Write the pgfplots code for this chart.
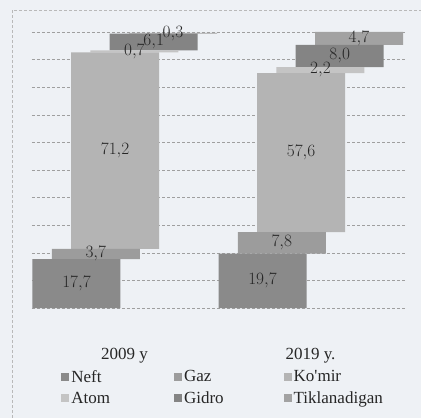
\documentclass[border=0pt]{standalone}
\usepackage{pgfplots}
\pgfplotsset{compat=1.18}
\usepackage{fontspec}
\setmainfont{Liberation Serif}
\definecolor{bg}{HTML}{EEF1F5}
\definecolor{cNeft}{HTML}{8A8A8A}
\definecolor{cGaz}{HTML}{9C9C9C}
\definecolor{cKomir}{HTML}{B4B4B4}
\definecolor{cAtom}{HTML}{C4C4C4}
\definecolor{cGidro}{HTML}{848484}
\definecolor{cTik}{HTML}{A2A2A2}
\definecolor{lab}{HTML}{262626}
\begin{document}
\begin{tikzpicture}
\fill[bg] (0pt,0pt) rectangle (421pt,418pt);
\draw[gray!55, densely dashed, line width=0.6pt] (12pt,0pt) -- (12pt,408pt) -- (421pt,408pt);
\begin{axis}[
  at={(32pt,110pt)}, anchor=south west,
  width=373pt, height=276pt, scale only axis,
  xmin=32, xmax=405, ymin=0, ymax=100,
  axis line style={draw=none}, major tick style={draw=none},
  ytick={0,10,...,100}, yticklabels={},
  ymajorgrids, grid style={densely dashed, gray!75, line width=0.5pt},
  xtick={124.5,310.5}, xticklabels={2009 y, 2019 y.},
  xticklabel style={font=\fontsize{17}{20}\selectfont, yshift=-37pt, text=lab},
  ybar stacked, bar width=88,
  point meta=rawy,
  nodes near coords={\pgfmathprintnumber[fixed,fixed zerofill,precision=1,use comma]{\pgfplotspointmeta}},
  nodes near coords style={font=\fontsize{17}{20}\selectfont, text=lab},
  legend columns=3,
  legend image code/.code={\fill[#1] (0pt,-4pt) rectangle (8pt,4pt);},
  legend style={draw=none, fill=none, at={(0.07,-0.21)}, anchor=north west,
    font=\fontsize{17}{20}\selectfont, text=lab, cells={anchor=west},
    /tikz/column 2/.style={column sep=62pt},
    /tikz/column 4/.style={column sep=58pt},
    row sep=4pt},
]
\addplot[fill=cNeft, draw=none, bar shift=0] coordinates {(76.5,17.7) (262.5,19.7)};
\addplot[fill=cGaz, draw=none, bar shift=19.3] coordinates {(76.5,3.7) (262.5,7.8)};
\addplot[fill=cKomir, draw=none, bar shift=38.6] coordinates {(76.5,71.2) (262.5,57.6)};
\addplot[fill=cAtom, draw=none, bar shift=57.9] coordinates {(76.5,0.7) (262.5,2.2)};
\addplot[fill=cGidro, draw=none, bar shift=77.2] coordinates {(76.5,6.1) (262.5,8.0)};
\addplot[fill=cTik, draw=none, bar shift=96.5] coordinates {(76.5,0.3) (262.5,4.7)};
\legend{Neft, Gaz, Ko\textquotesingle mir, Atom, Gidro, Tiklanadigan}
\end{axis}
\pgfresetboundingbox
\useasboundingbox (0pt,0pt) rectangle (421pt,418pt);
\end{tikzpicture}
\end{document}
